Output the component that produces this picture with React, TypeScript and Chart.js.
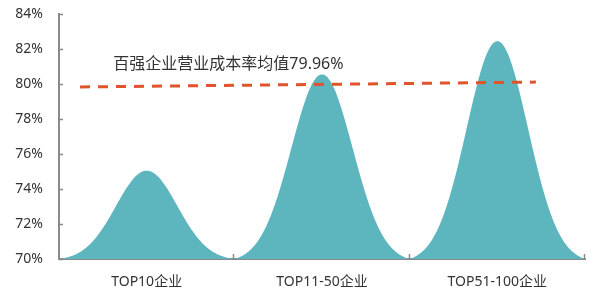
import { useEffect, useRef } from 'react';
import { Chart, registerables } from 'chart.js';
Chart.register(...registerables);

// ---- data ----
const categories = ['TOP10企业', 'TOP11-50企业', 'TOP51-100企业'];
const costRates = [75.05, 80.55, 82.45];
const avgLineX = [0.12, 2.72];
const avgLineY = [79.83, 80.11];
const avgLabel = '百强企业营业成本率均值79.96%';
const avgLabelPos = { x: 0.31, y: 81.1 };
const yMin = 70;
const yMax = 84;
const yStep = 2;

const TEAL = '#5db6be';
const ORANGE = '#e0532b';
const AXIS = '#8a8a8a';
const TEXT = '#333333';
const FONT = "'Noto Sans', 'Noto Sans CJK SC', sans-serif";

const bellPlugin = {
  id: 'bells',
  beforeDatasetsDraw(chart: any) {
    const xs = chart.scales.x;
    const ys = chart.scales.y;
    const ctx = chart.ctx;
    const n = categories.length;
    const width = (xs.right - xs.left) / n;
    const base = ys.getPixelForValue(yMin);
    ctx.save();
    ctx.fillStyle = TEAL;
    costRates.forEach((v, idx) => {
      const x = xs.getPixelForValue(idx);
      const y = ys.getPixelForValue(v);
      const half = width / 2;
      const sigma = width * 0.175;
      const gEdge = Math.exp(-(half * half) / (2 * sigma * sigma));
      const N = 160;
      ctx.beginPath();
      ctx.moveTo(x - half, base);
      for (let i = 0; i <= N; i++) {
        const dx = -half + (i * width) / N;
        const g = Math.exp(-(dx * dx) / (2 * sigma * sigma));
        const f = (g - gEdge) / (1 - gEdge);
        ctx.lineTo(x + dx, base - f * (base - y));
      }
      ctx.closePath();
      ctx.fill();
    });
    ctx.restore();
  },
  afterDraw(chart: any) {
    const ctx = chart.ctx;
    const { left, bottom } = chart.chartArea;
    const ys = chart.scales.y;
    const xs = chart.scales.x;
    const x2 = chart.scales.x2;
    ctx.save();
    ctx.strokeStyle = AXIS;
    ctx.lineWidth = 1.5;
    // inward y ticks
    ys.ticks.forEach((_t: any, i: number) => {
      const py = Math.round(ys.getPixelForTick(i)) + 0.5;
      ctx.beginPath();
      ctx.moveTo(left, py);
      ctx.lineTo(left + 4, py);
      ctx.stroke();
    });
    // inward x ticks at category boundaries
    const n = categories.length;
    const w = (xs.right - xs.left) / n;
    for (let i = 1; i <= n; i++) {
      const px = Math.round(xs.getPixelForValue(i - 1) + w / 2) - 0.5;
      ctx.beginPath();
      ctx.moveTo(px, bottom);
      ctx.lineTo(px, bottom - 5);
      ctx.stroke();
    }
    // annotation text
    ctx.fillStyle = TEXT;
    ctx.font = `16px ${FONT}`;
    ctx.textBaseline = 'middle';
    ctx.textAlign = 'left';
    ctx.fillText(avgLabel, x2.getPixelForValue(avgLabelPos.x), ys.getPixelForValue(avgLabelPos.y));
    ctx.restore();
  },
};

export default function App() {
  const ref = useRef<HTMLCanvasElement>(null);
  useEffect(() => {
    document.body.style.margin = '0';
    const chart = new Chart(ref.current!, {
      type: 'bar',
      data: {
        labels: categories,
        datasets: [
          {
            type: 'bar',
            data: costRates,
            backgroundColor: 'rgba(0,0,0,0)',
            borderWidth: 0,
            barPercentage: 1,
            categoryPercentage: 1,
            xAxisID: 'x',
          } as any,
          {
            type: 'line',
            data: avgLineX.map((x, i) => ({ x, y: avgLineY[i] })),
            borderColor: ORANGE,
            borderWidth: 3,
            borderDash: [10, 8],
            pointRadius: 0,
            fill: false,
            xAxisID: 'x2',
          } as any,
        ],
      },
      plugins: [bellPlugin],
      options: {
        animation: false,
        responsive: true,
        maintainAspectRatio: false,
        layout: { padding: { top: 14, right: 9, left: 0, bottom: 0 } },
        plugins: { legend: { display: false }, tooltip: { enabled: false } },
        scales: {
          x: {
            type: 'category',
            offset: true,
            grid: { display: false, drawTicks: false, offset: true },
            border: { display: true, color: AXIS, width: 2 },
            ticks: { color: TEXT, font: { family: FONT, size: 14 }, padding: 15, maxRotation: 0 },
            afterFit: (s: any) => { s.height = 37; s.paddingLeft = 0; s.paddingRight = 0; },
          },
          x2: {
            type: 'linear',
            display: false,
            offset: false,
            grid: { offset: false },
            min: 0,
            max: 3,
          },
          y: {
            min: yMin,
            max: yMax,
            grid: { display: false, drawTicks: false },
            border: { display: true, color: AXIS, width: 2 },
            ticks: {
              stepSize: yStep,
              color: TEXT,
              font: { family: FONT, size: 14 },
              padding: 16,
              callback: (v: any) => `${v}%`,
            },
            afterFit: (s: any) => { s.width = 59; s.paddingTop = 0; s.paddingBottom = 0; },
          },
        },
      } as any,
    });
    return () => chart.destroy();
  }, []);
  return (
    <div style={{ position: 'relative', width: 594, height: 296 }}>
      <canvas ref={ref} />
    </div>
  );
}
